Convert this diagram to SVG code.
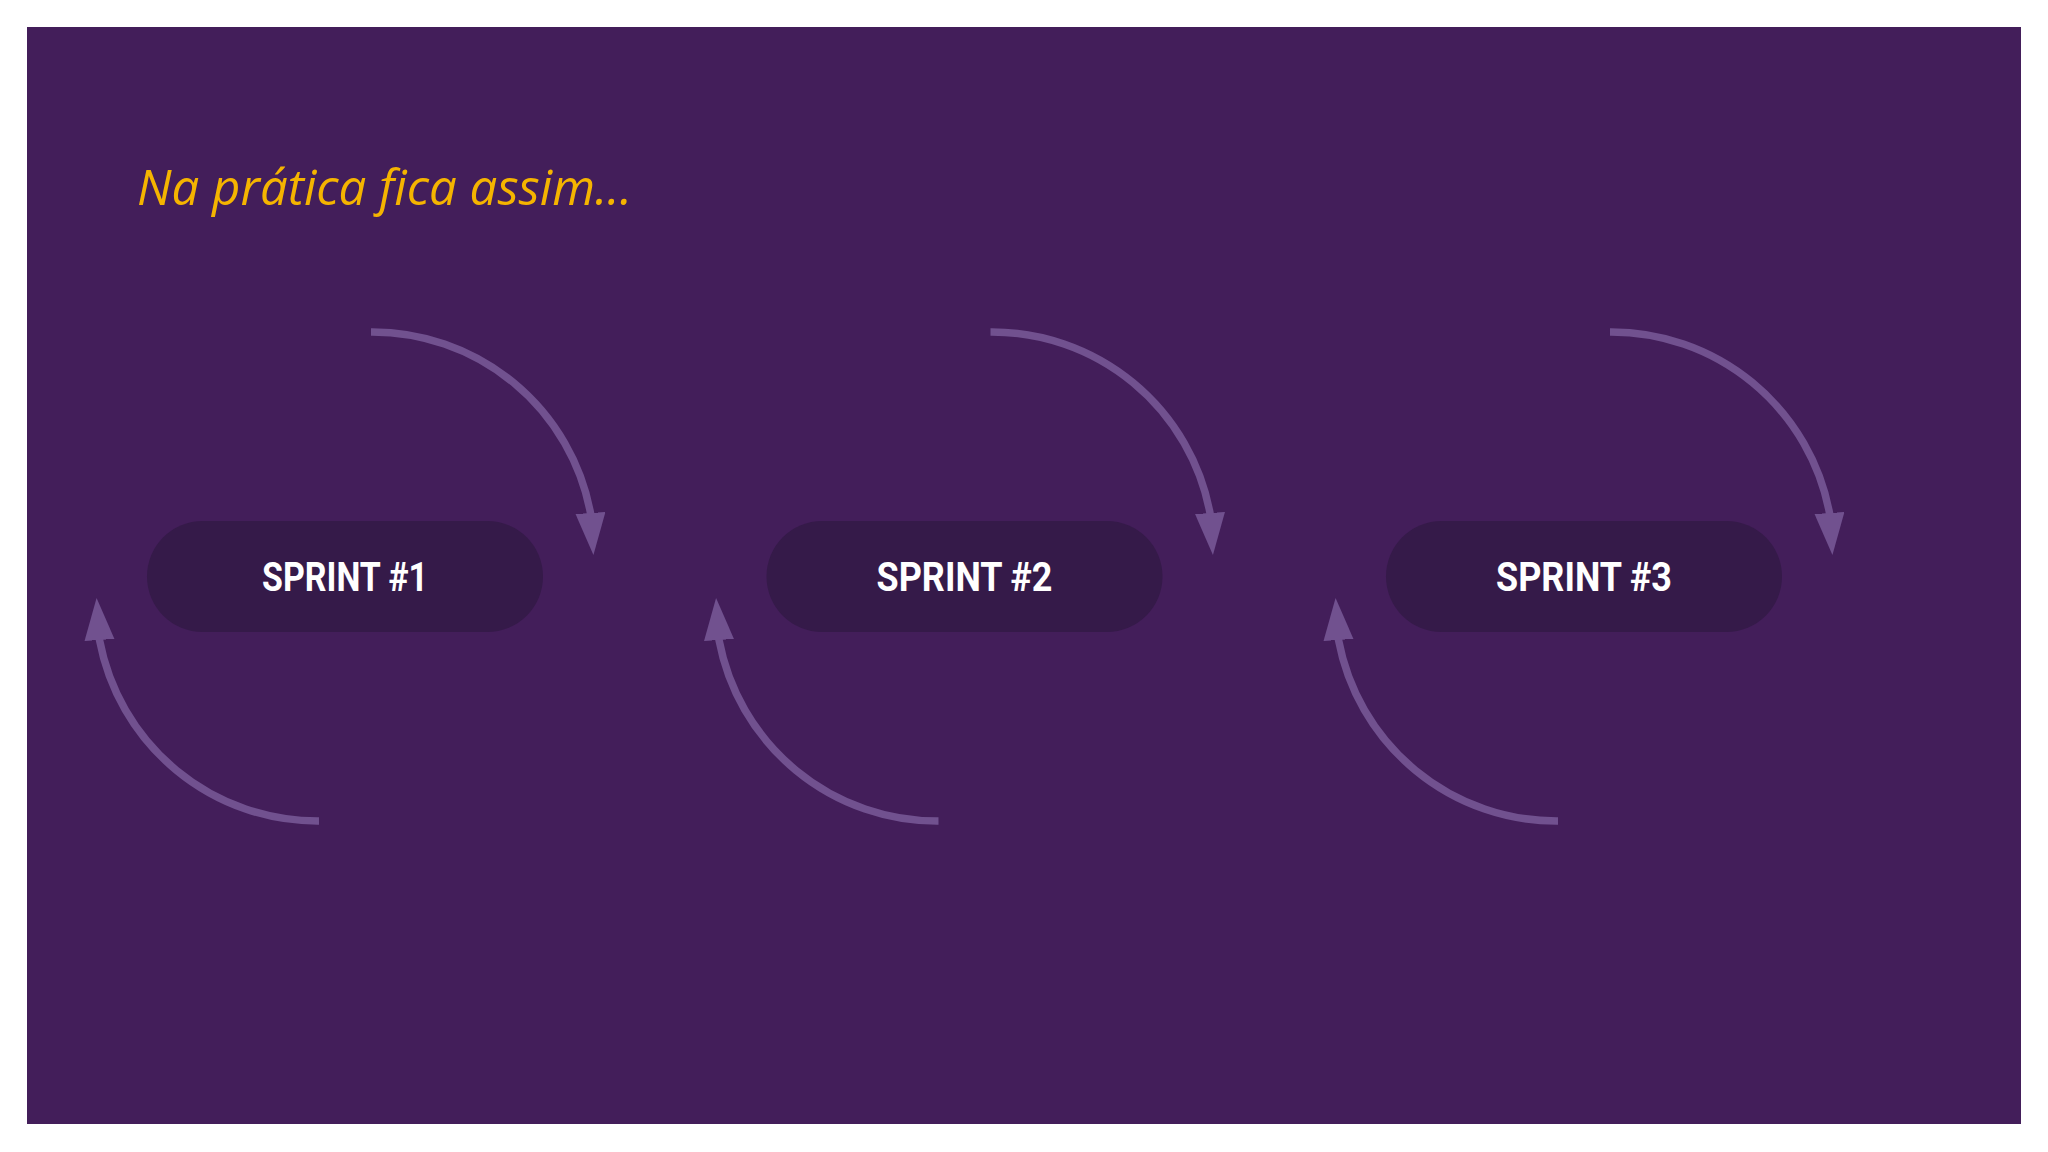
<svg xmlns="http://www.w3.org/2000/svg" width="2048" height="1152" viewBox="0 0 2048 1152">
  <style>
    .pill { fill: #351a49; }
    .label { font-family: Roboto, "Liberation Sans", sans-serif; font-weight: bold; font-size: 41px; fill: #ffffff; text-anchor: middle; }
    .arc { fill: none; stroke: #71518f; stroke-width: 7.5; }
    .title { font-family: "Open Sans", "Noto Sans", sans-serif; font-style: italic; font-size: 50px; fill: #f5b400; }
  </style>
  <defs>
    <marker id="head" markerUnits="userSpaceOnUse" markerWidth="44" markerHeight="32" refX="1" refY="15" orient="auto">
      <path d="M0,0 L42,15 L0,30 Z" fill="#71518f"/>
    </marker>
  </defs>
  <rect x="0" y="0" width="2048" height="1152" fill="#ffffff"/>
  <rect x="27" y="27" width="1994" height="1097" fill="#431e5a"/>
  <text class="title" x="137" y="205" textLength="495" lengthAdjust="spacingAndGlyphs">Na prática fica assim...</text>

  <g id="connectors">
    <g id="loop1">
      <path class="arc" d="M371,332 A222,222 0 0 1 590.5,513 l0.07,1" marker-end="url(#head)"/>
      <path class="arc" d="M319,821 A222,222 0 0 1 99.5,640 l-0.07,-1" marker-end="url(#head)"/>
    </g>
    <g id="loop2" transform="translate(619.5,0)">
      <path class="arc" d="M371,332 A222,222 0 0 1 590.5,513 l0.07,1" marker-end="url(#head)"/>
      <path class="arc" d="M319,821 A222,222 0 0 1 99.5,640 l-0.07,-1" marker-end="url(#head)"/>
    </g>
    <g id="loop3" transform="translate(1239,0)">
      <path class="arc" d="M371,332 A222,222 0 0 1 590.5,513 l0.07,1" marker-end="url(#head)"/>
      <path class="arc" d="M319,821 A222,222 0 0 1 99.5,640 l-0.07,-1" marker-end="url(#head)"/>
    </g>
  </g>

  <g id="sprint1">
    <rect class="pill" x="147" y="521" width="396" height="111" rx="55.5"/>
    <text class="label" x="345" y="591" textLength="166" lengthAdjust="spacingAndGlyphs">SPRINT #1</text>
  </g>
  <g id="sprint2">
    <rect class="pill" x="766.5" y="521" width="396" height="111" rx="55.5"/>
    <text class="label" x="964.5" y="591" textLength="176" lengthAdjust="spacingAndGlyphs">SPRINT #2</text>
  </g>
  <g id="sprint3">
    <rect class="pill" x="1386" y="521" width="396" height="111" rx="55.5"/>
    <text class="label" x="1584" y="591" textLength="176" lengthAdjust="spacingAndGlyphs">SPRINT #3</text>
  </g>
</svg>
